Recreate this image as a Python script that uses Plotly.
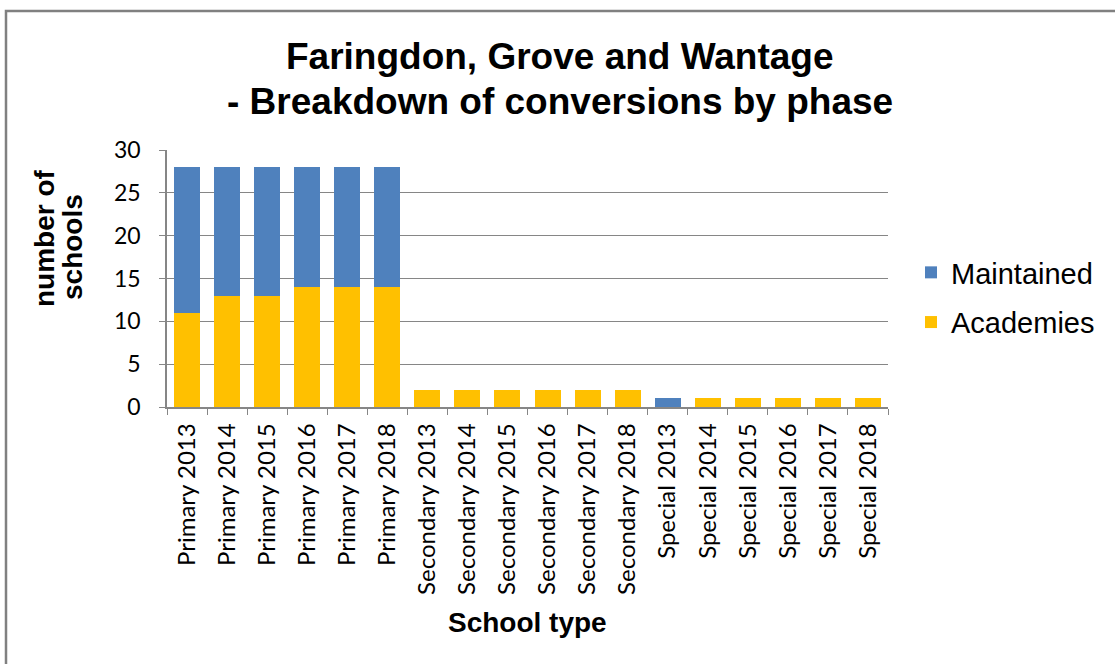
import plotly.graph_objects as go

# categories and stacked values
categories = [
    "Primary 2013", "Primary 2014", "Primary 2015", "Primary 2016", "Primary 2017", "Primary 2018",
    "Secondary 2013", "Secondary 2014", "Secondary 2015", "Secondary 2016", "Secondary 2017", "Secondary 2018",
    "Special 2013", "Special 2014", "Special 2015", "Special 2016", "Special 2017", "Special 2018",
]
academies = [11, 13, 13, 14, 14, 14, 2, 2, 2, 2, 2, 2, 0, 1, 1, 1, 1, 1]
maintained = [17, 15, 15, 14, 14, 14, 0, 0, 0, 0, 0, 0, 1, 0, 0, 0, 0, 0]
y_ticks = [0, 5, 10, 15, 20, 25, 30]

W, H = 1115, 664
L, R, T, B = 167, 227, 150, 257
pw, ph = W - L - R, H - T - B


def px(x):  # page pixel -> paper x
    return (x - L) / pw


def py(y):  # page pixel -> paper y
    return (H - B - y) / ph


fig = go.Figure()
fig.add_trace(go.Bar(x=categories, y=academies, name="Academies", legendrank=2,
                     marker=dict(color="#FFC000", line=dict(width=0)), legendgroup="a"))
fig.add_trace(go.Bar(x=categories, y=maintained, name="Maintained", legendrank=1,
                     marker=dict(color="#4F81BD", line=dict(width=0)), legendgroup="m"))

fig.update_layout(
    width=W, height=H,
    margin=dict(l=L, r=R, t=T, b=B, autoexpand=False),
    barmode="stack", bargap=0.35,
    plot_bgcolor="white", paper_bgcolor="white",
    showlegend=True,
    legend=dict(x=px(911), y=py(247), xanchor="left", yanchor="top",
                traceorder="grouped", tracegroupgap=9,
                font=dict(family="Liberation Sans, Arial", size=29, color="black")),
    xaxis=dict(tickangle=-90, showline=True, linecolor="#868686", linewidth=1.5,
               ticks="outside", tickson="boundaries", ticklen=6, tickcolor="#868686",
               ticklabelstandoff=5,
               tickfont=dict(family="Lato", size=24, color="black"), showgrid=False),
    yaxis=dict(range=[0, 30], tickvals=y_ticks, showline=True, linecolor="#868686", linewidth=1.5,
               ticks="outside", ticklen=6, tickcolor="#868686", ticklabelstandoff=14,
               gridcolor="#868686", gridwidth=1, zeroline=False,
               tickfont=dict(family="Lato", size=23, color="black")),
)

font_b = "Liberation Sans, Arial"
# chart title, one annotation per line for Excel-like spacing
for txt, yy in [("Faringdon, Grove and Wantage", 57), ("- Breakdown of conversions by phase", 101)]:
    fig.add_annotation(text="<b>" + txt + "</b>", xref="paper", yref="paper",
                       x=px(560), y=py(yy), xanchor="center", yanchor="middle",
                       showarrow=False, font=dict(family=font_b, size=37, color="black"))
# axis titles
fig.add_annotation(text="<b>number of</b>", textangle=-90, xref="paper", yref="paper",
                   x=px(44), y=py(238), xanchor="center", yanchor="middle", showarrow=False,
                   font=dict(family=font_b, size=28, color="black"))
fig.add_annotation(text="<b>schools</b>", textangle=-90, xref="paper", yref="paper",
                   x=px(72), y=py(247), xanchor="center", yanchor="middle", showarrow=False,
                   font=dict(family=font_b, size=28, color="black"))
fig.add_annotation(text="<b>School type</b>", xref="paper", yref="paper",
                   x=0.5, y=py(622), xanchor="center", yanchor="middle", showarrow=False,
                   font=dict(family=font_b, size=28, color="black"))

# outer chart frame (only top and left edges fall inside the picture)
fig.add_shape(type="rect", xref="paper", yref="paper",
              x0=px(6), x1=px(W + 20), y0=py(H + 20), y1=py(11),
              line=dict(color="#808080", width=2.5), fillcolor="rgba(0,0,0,0)", layer="below")

fig.write_html("out.html", config={"displayModeBar": False},
               post_script="document.body.style.margin='0';")
